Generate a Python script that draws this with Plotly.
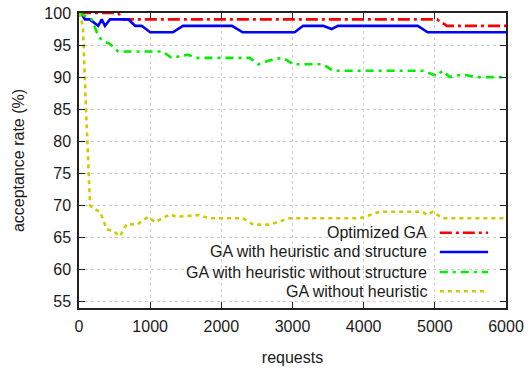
import plotly.graph_objects as go

# ---- data ----
series_names = ["Optimized GA", "GA with heuristic and structure",
                "GA with heuristic without structure", "GA without heuristic"]

opt_x = [0, 550, 620, 5030, 5170, 6000]
opt_y = [100, 100, 99, 99, 98, 98]

hs_x = [0, 30, 84, 150, 270, 320, 365, 435, 690, 790, 880, 1000, 1320, 1460,
        2150, 2300, 3030, 3150, 3430, 3550, 3640, 4760, 4900, 6000]
hs_y = [100, 100, 99, 99, 98, 99, 98, 99, 99, 98, 98, 97, 97, 98,
        98, 97, 97, 98, 98, 97.5, 98, 98, 97, 97]

hn_x = [0, 100, 180, 250, 300, 365, 435, 550, 1180, 1300, 1530, 1650, 2400,
        2520, 2730, 2870, 3010, 3430, 3570, 4830, 5030, 5110, 5210, 5380,
        5600, 6000]
hn_y = [100, 99.5, 99, 97, 96, 95.5, 95.2, 94, 94, 93, 93.5, 93, 93,
        92, 92.8, 93, 92, 92, 91, 91, 90.2, 91, 90, 90.4,
        90, 90]

nh_x = [0, 55, 95, 155, 225, 295, 390, 480, 575, 670, 815, 970, 1070, 1280,
        1370, 1670, 1840, 2300, 2450, 2680, 2960, 3950, 4230, 4830, 4890,
        4970, 5110, 6000]
nh_y = [100, 98, 86, 70, 69.4, 69, 66.3, 66, 65.2, 67.1, 67, 68.2, 67.4, 68.6,
        68.2, 68.5, 68, 68, 67, 67, 68, 68, 69, 69, 68.5,
        69, 68, 68]

x_ticks = [0, 1000, 2000, 3000, 4000, 5000, 6000]
y_ticks = [55, 60, 65, 70, 75, 80, 85, 90, 95, 100]

colors = ["#ff0000", "#0000ff", "#00ee00", "#cccc00"]
dashes = ["12px,4px,3px,4px", "solid", "8px,5px,3px,5px", "4px,4px"]
xs = [opt_x, hs_x, hn_x, nh_x]
ys = [opt_y, hs_y, hn_y, nh_y]

font = "Liberation Sans, Arial, sans-serif"
txt = "#1a1a1a"
fs = 16

fig = go.Figure()
for name, x, y, c, d in zip(series_names, xs, ys, colors, dashes):
    fig.add_trace(go.Scatter(x=x, y=y, mode="lines", name=name,
                             line=dict(color=c, width=2.6, dash=d),
                             showlegend=False))

# opaque key box (hides grid like gnuplot's opaque key)
fig.add_shape(type="rect", xref="paper", yref="paper",
              x0=0.066, x1=0.986, y0=0.031, y1=0.29,
              fillcolor="white", line=dict(width=0), layer="between")

row_y = [0.255, 0.190, 0.122, 0.057]
for name, c, d, ry in zip(series_names, colors, dashes, row_y):
    fig.add_annotation(x=0.819, y=ry, xref="paper", yref="paper", text=name,
                       showarrow=False, xanchor="right", yanchor="middle",
                       font=dict(family=font, size=fs, color=txt))
    fig.add_shape(type="line", xref="paper", yref="paper",
                  x0=0.845, x1=0.958, y0=ry, y1=ry,
                  line=dict(color=c, width=2.6, dash=d))

axis_common = dict(showline=True, linecolor="#222", linewidth=1.5,
                   mirror="ticks", ticks="inside", ticklen=6, tickwidth=1.2,
                   tickcolor="#222", showgrid=True, gridcolor="#cfcfcf",
                   griddash="dot", gridwidth=1, zeroline=False,
                   tickfont=dict(family=font, size=fs, color=txt))

fig.update_xaxes(range=[0, 6000], tickvals=x_ticks, ticklabelstandoff=3,
                 title=dict(text="requests", standoff=18,
                            font=dict(family=font, size=fs, color=txt)),
                 **axis_common)
fig.update_yaxes(range=[54, 100], tickvals=y_ticks, ticklabelstandoff=3,
                 title=dict(text="acceptance rate (%)", standoff=16,
                            font=dict(family=font, size=fs, color=txt)),
                 **axis_common)

fig.update_layout(width=529, height=375,
                  margin=dict(l=79, r=23, t=13, b=67, autoexpand=False),
                  plot_bgcolor="white", paper_bgcolor="white",
                  font=dict(family=font, size=fs, color=txt))

fig.write_html("out.html")
